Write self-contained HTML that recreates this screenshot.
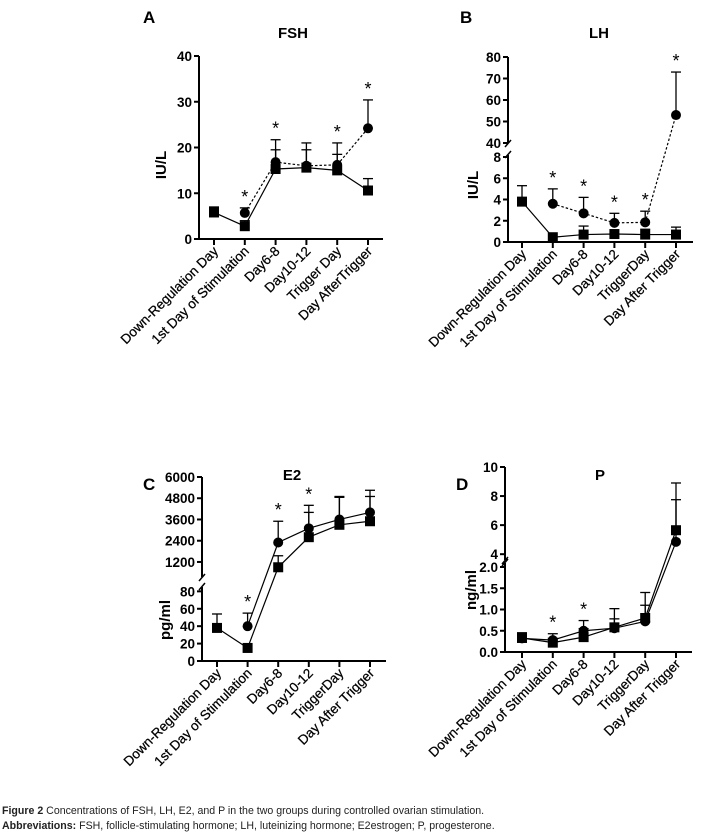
<!DOCTYPE html>
<html><head><meta charset="utf-8">
<style>
body{margin:0;background:#fff;width:709px;height:839px;overflow:hidden;font-family:"Liberation Sans",Arial,sans-serif;}
svg{position:absolute;left:0;top:0}
.cap{position:absolute;left:2px;font-size:10.6px;color:#222;white-space:nowrap;font-family:"Liberation Sans",sans-serif;}
</style></head>
<body>
<svg id="chart" width="709" height="839" viewBox="0 0 709 839"></svg>
<div class="cap" style="top:805px"><b>Figure 2</b> Concentrations of FSH, LH, E2, and P in the two groups during controlled ovarian stimulation.</div>
<div class="cap" style="top:820px"><b>Abbreviations:</b> FSH, follicle-stimulating hormone; LH, luteinizing hormone; E2estrogen; P, progesterone.</div>
<script>
// ---- data ----
const catsA = ["Down-Regulation Day","1st Day of Stimulation","Day6-8","Day10-12","Trigger Day","Day AfterTrigger"];
const catsB = ["Down-Regulation Day","1st Day of Stimulation","Day6-8","Day10-12","TriggerDay","Day After Trigger"];
const fshSquare = [5.8, 2.8, 15.3, 15.6, 15.0, 10.6];
const fshSquareErr = [7.0, 4.0, 19.5, 19.5, 18.5, 13.2];
const fshCircle = [null, 5.7, 16.8, 16.0, 16.2, 24.2];
const fshCircleErr = [null, 6.8, 21.7, 21.0, 21.0, 30.4];
const fshStars = [1,2,4,5];
const fshTicks = [0,10,20,30,40];
const lhSquare = [3.8, 0.45, 0.7, 0.75, 0.7, 0.7];
const lhSquareErr = [5.3, null, 1.5, null, 1.2, 1.4];
const lhCircle = [null, 3.6, 2.7, 1.8, 1.85, 53];
const lhCircleErr = [null, 5.0, 4.2, 2.7, 2.9, 73];
const lhStars = [1,2,3,4,5];
const lhTicksLow = [0,2,4,6,8];
const lhTicksHigh = [40,50,60,70,80];
const e2Square = [38, 15, 900, 2600, 3300, 3500];
const e2SquareErr = [54, null, 1550, 4000, 4850, 4900];
const e2Circle = [null, 40, 2300, 3100, 3600, 4000];
const e2CircleErr = [null, 55, 3500, 4400, 4900, 5250];
const e2Stars = [1,2,3];
const e2TicksLow = [0,20,40,60,80];
const e2TicksHigh = [1200,2400,3600,4800,6000];
const pSquare = [0.33, 0.22, 0.35, 0.58, 0.8, 5.65];
const pSquareErr = [0.45, null, 0.55, 0.78, 1.1, 7.75];
const pCircle = [0.32, 0.28, 0.5, 0.56, 0.72, 4.85];
const pCircleErr = [0.45, 0.43, 0.74, 1.02, 1.4, 8.9];
const pStars = [1,2];
const pTicksLow = ["0.0","0.5","1.0","1.5","2.0"];
const pTicksHigh = [4,6,8,10];

const svg=document.getElementById('chart');
const NS="http://www.w3.org/2000/svg";
function mk(tag,attrs,parent){const e=document.createElementNS(NS,tag);for(const k in attrs)e.setAttribute(k,attrs[k]);(parent||svg).appendChild(e);return e;}

function panel(cfg){
  const g=mk('g',{});
  
  
  const segs=cfg.segs;
  function y(v){for(const s of segs){if(v>=s.d0&&v<=s.d1+1e-9)return s.p0+(v-s.d0)/(s.d1-s.d0)*(s.p1-s.p0);}
    const s=segs[segs.length-1];return s.p0+(v-s.d0)/(s.d1-s.d0)*(s.p1-s.p0);}
  function x(i){return cfg.x0+i*cfg.dx;}
  const L=mk('text',{x:cfg.lx,y:cfg.ly,'font-size':17,'font-weight':'bold'},g);L.textContent=cfg.letter;
  
  const T=mk('text',{x:cfg.tx,y:cfg.ty,'font-size':15,'font-weight':'bold','text-anchor':'middle'},g);T.textContent=cfg.title;
  
  const ax=cfg.ax;
  segs.forEach(s=>{
    mk('line',{x1:ax,x2:ax,y1:s.p0+ (s===segs[0]?1:0),y2:s.top,stroke:'#000','stroke-width':2},g);
  });
  if(segs.length>1){
    const b1=segs[0].top,b2=segs[1].p0;
    mk('line',{x1:ax-3,y1:b1+3,x2:ax+3,y2:b1-4,stroke:'#000','stroke-width':1.5},g);
    mk('line',{x1:ax-3,y1:b2+4,x2:ax+3,y2:b2-3,stroke:'#000','stroke-width':1.5},g);
  }
  cfg.ticks.forEach(t=>{
    const v=parseFloat(t);const py=y(v);
    mk('line',{x1:ax-5,x2:ax,y1:py,y2:py,stroke:'#000','stroke-width':2},g);
    const tt=mk('text',{x:ax-7,y:py+5,'font-size':13.5,'font-weight':'bold','text-anchor':'end'},g);tt.textContent=t;
    
  });
  const yl=mk('text',{x:0,y:0,'font-size':15,'font-weight':'bold','text-anchor':'middle',transform:`translate(${cfg.ylx},${cfg.yly}) rotate(-90)`},g);
  yl.textContent=cfg.ylabel;
  const by=segs[0].p0;
  mk('line',{x1:ax-1,x2:cfg.axEnd,y1:by,y2:by,stroke:'#000','stroke-width':2},g);
  cfg.cats.forEach((c,i)=>{
    mk('line',{x1:x(i),x2:x(i),y1:by,y2:by+6,stroke:'#000','stroke-width':2},g);
    const t=mk('text',{x:0,y:0,'font-size':13.5,'text-anchor':'end','stroke':'#000','stroke-width':0.25,transform:`translate(${x(i)+5},${by+13}) rotate(-45)`},g);
    t.textContent=c;
  });
  function series(vals,errs,shape,dash,nm){
    const sg=mk('g',{},g);
    let pts=[];vals.forEach((v,i)=>{if(v!=null)pts.push([x(i),y(v)]);});
    mk('polyline',{points:pts.map(p=>p.join(',')).join(' '),fill:'none',stroke:'#000','stroke-width':1.2,'stroke-dasharray':dash?'2.5,2':'none'},sg);
    vals.forEach((v,i)=>{
      if(v==null)return;
      if(errs[i]!=null){const ey=y(errs[i]);
        mk('line',{x1:x(i),x2:x(i),y1:y(v),y2:ey,stroke:'#000','stroke-width':1.3},sg);
        mk('line',{x1:x(i)-5,x2:x(i)+5,y1:ey,y2:ey,stroke:'#000','stroke-width':1.3},sg);}
    });
    vals.forEach((v,i)=>{
      if(v==null)return;let m;
      if(shape==='sq')m=mk('rect',{x:x(i)-5,y:y(v)-5,width:10,height:10,fill:'#000'},sg);
      else m=mk('circle',{cx:x(i),cy:y(v),r:5,fill:'#000'},sg);
      
      
    });
  }
  series(cfg.sq,cfg.sqErr,'sq',false,'series-square');
  series(cfg.ci,cfg.ciErr,'ci',cfg.dashed,'series-circle');
  cfg.stars.forEach(i=>{
    const top=Math.max(cfg.sqErr[i]??cfg.sq[i],cfg.ciErr[i]??cfg.ci[i]??0);
    const s=mk('text',{x:x(i),y:y(top)-5,'font-size':18,'text-anchor':'middle'},g);s.textContent='*';
    
  });
}

panel({name:'panel-a-fsh',letter:'A',lx:143,ly:23,title:'FSH',tx:293,ty:38,ax:199,axEnd:383,x0:214,dx:30.8,
  segs:[{d0:0,d1:40,p0:239,p1:56,top:56}],ticks:fshTicks.map(String),ylabel:'IU/L',ylx:166,yly:165,
  cats:catsA,sq:fshSquare,sqErr:fshSquareErr,ci:fshCircle,ciErr:fshCircleErr,stars:fshStars,dashed:true});
panel({name:'panel-b-lh',letter:'B',lx:460,ly:23,title:'LH',tx:599,ty:38,ax:508,axEnd:693,x0:522,dx:30.8,
  segs:[{d0:0,d1:8,p0:242,p1:157,top:155},{d0:40,d1:80,p0:143,p1:57,top:57}],
  ticks:lhTicksLow.concat(lhTicksHigh).map(String),ylabel:'IU/L',ylx:478,yly:185,
  cats:catsB,sq:lhSquare,sqErr:lhSquareErr,ci:lhCircle,ciErr:lhCircleErr,stars:lhStars,dashed:true});
panel({name:'panel-c-e2',letter:'C',lx:143,ly:490,title:'E2',tx:292,ty:480,ax:202,axEnd:386,x0:217,dx:30.6,
  segs:[{d0:0,d1:85,p0:661,p1:587,top:587},{d0:350,d1:6000,p0:577,p1:477,top:477}],
  ticks:e2TicksLow.concat(e2TicksHigh).map(String),ylabel:'pg/ml',ylx:170,yly:620,
  cats:catsB,sq:e2Square,sqErr:e2SquareErr,ci:e2Circle,ciErr:e2CircleErr,stars:e2Stars,dashed:false});
panel({name:'panel-d-p',letter:'D',lx:456,ly:490,title:'P',tx:600,ty:480,ax:505,axEnd:692,x0:522,dx:30.8,
  segs:[{d0:0,d1:2.1,p0:652,p1:562.75,top:563},{d0:3.6,d1:10,p0:560,p1:467,top:467}],
  ticks:pTicksLow.concat(pTicksHigh.map(String)),ylabel:'ng/ml',ylx:476,yly:590,
  cats:catsB,sq:pSquare,sqErr:pSquareErr,ci:pCircle,ciErr:pCircleErr,stars:pStars,dashed:false});
</script>
</body></html>
